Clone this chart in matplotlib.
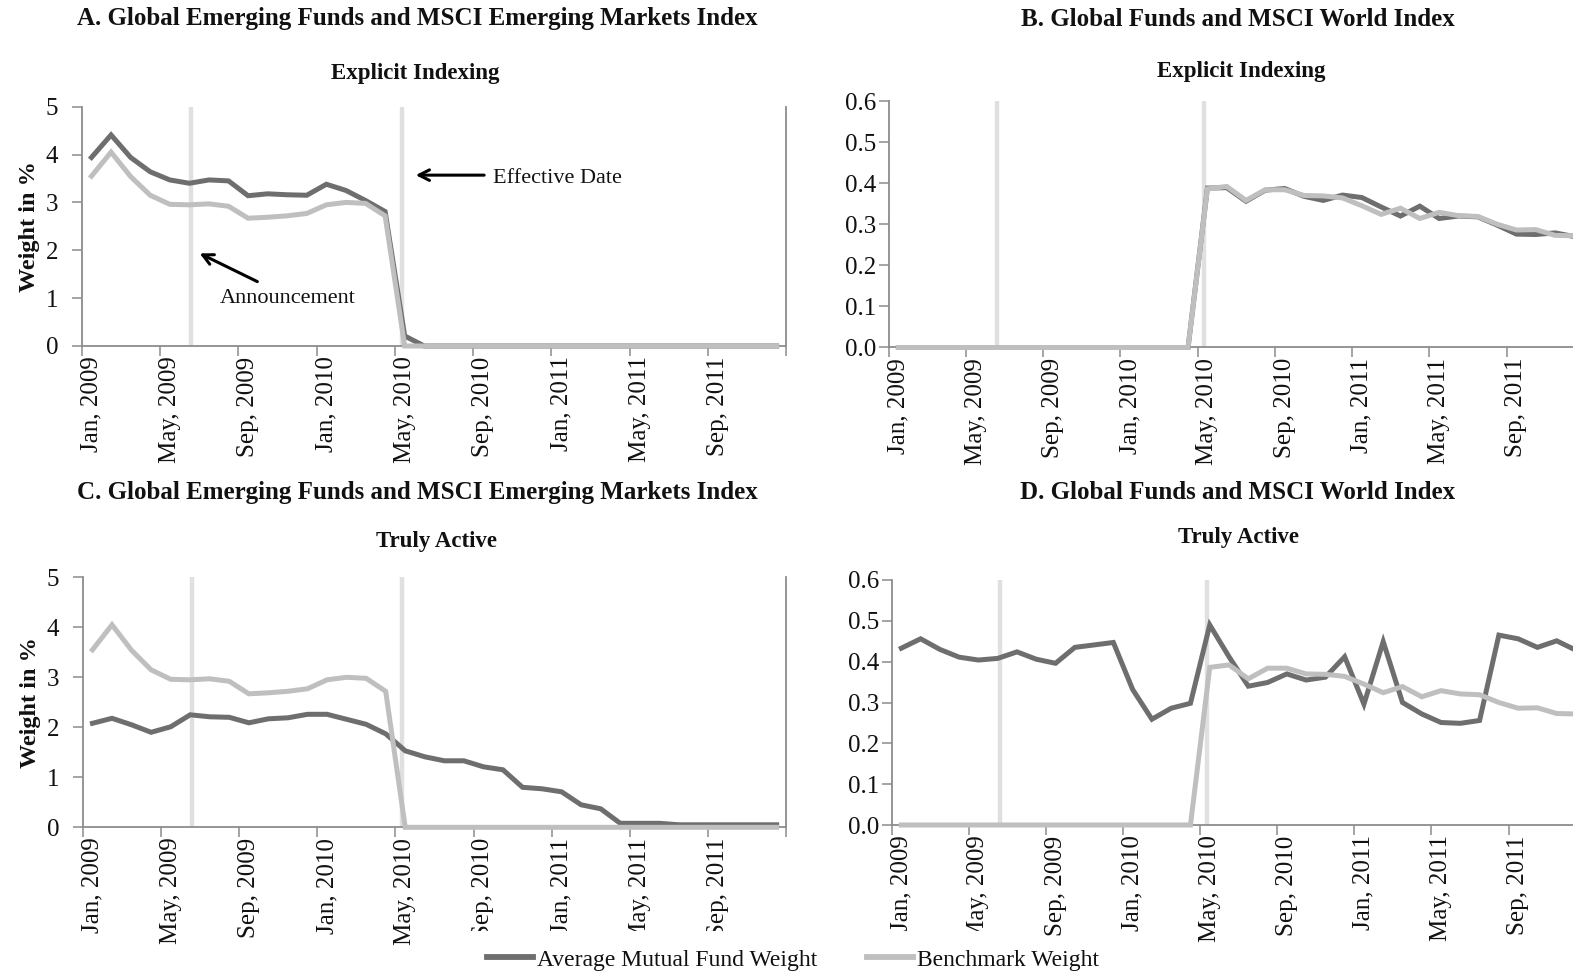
import matplotlib
matplotlib.use("Agg")
import matplotlib.pyplot as plt
from matplotlib.lines import Line2D
from matplotlib.patches import Rectangle

plt.rcParams['font.family'] = ['Liberation Serif', 'DejaVu Serif']

# ---------------- data ----------------
tick_labels = ["Jan, 2009", "May, 2009", "Sep, 2009", "Jan, 2010", "May, 2010",
               "Sep, 2010", "Jan, 2011", "May, 2011", "Sep, 2011"]
n_months = 36

em_explicit_fund = [3.94, 4.41, 3.94, 3.64, 3.47, 3.40, 3.47, 3.45, 3.14, 3.18, 3.16, 3.15,
                    3.38, 3.25, 3.04, 2.81, 0.21, 0.0, 0.0, 0.0, 0.0, 0.0, 0.0, 0.0,
                    0.0, 0.0, 0.0, 0.0, 0.0, 0.0, 0.0, 0.0, 0.0, 0.0, 0.0, 0.0]
em_benchmark = [3.55, 4.05, 3.54, 3.15, 2.96, 2.95, 2.97, 2.92, 2.67, 2.69, 2.72, 2.77,
                2.95, 3.00, 2.98, 2.72, 0.0, 0.0, 0.0, 0.0, 0.0, 0.0, 0.0, 0.0,
                0.0, 0.0, 0.0, 0.0, 0.0, 0.0, 0.0, 0.0, 0.0, 0.0, 0.0, 0.0]
em_active_fund = [2.08, 2.18, 2.05, 1.90, 2.01, 2.25, 2.21, 2.20, 2.09, 2.17, 2.19, 2.26,
                  2.26, 2.16, 2.06, 1.87, 1.53, 1.41, 1.33, 1.33, 1.21, 1.15, 0.80, 0.77,
                  0.71, 0.45, 0.37, 0.08, 0.08, 0.08, 0.05, 0.05, 0.05, 0.05, 0.05, 0.05]

world_explicit_fund = [0.0, 0.0, 0.0, 0.0, 0.0, 0.0, 0.0, 0.0, 0.0, 0.0, 0.0, 0.0,
                       0.0, 0.0, 0.0, 0.0, 0.388, 0.389, 0.356, 0.383, 0.387, 0.368, 0.358, 0.371,
                       0.365, 0.342, 0.320, 0.344, 0.314, 0.320, 0.318, 0.298, 0.276, 0.275, 0.279, 0.270]
world_benchmark = [0.0, 0.0, 0.0, 0.0, 0.0, 0.0, 0.0, 0.0, 0.0, 0.0, 0.0, 0.0,
                   0.0, 0.0, 0.0, 0.0, 0.386, 0.392, 0.358, 0.384, 0.384, 0.370, 0.369, 0.364,
                   0.345, 0.324, 0.339, 0.314, 0.329, 0.321, 0.319, 0.300, 0.286, 0.287, 0.273, 0.272]
world_active_fund = [0.433, 0.456, 0.430, 0.411, 0.404, 0.408, 0.424, 0.406, 0.396, 0.435, 0.441, 0.447,
                     0.332, 0.259, 0.286, 0.298, 0.490, 0.412, 0.340, 0.349, 0.370, 0.355, 0.362, 0.412,
                     0.296, 0.449, 0.300, 0.272, 0.251, 0.249, 0.256, 0.465, 0.456, 0.435, 0.451, 0.428]

# event dates in month units from the Jan 2009 axis start
announcement_pos = 5.6
effective_pos = 16.35

# ---------------- style ----------------
FUND_C = '#6e6e6e'
BENCH_C = '#bfbfbf'
EVENT_C = '#e0e0e0'
SPINE_C = '#8c8c8c'
TXT_C = '#111111'
LW = 3.6

W, H = 1573, 977
fig = plt.figure(figsize=(W / 100, H / 100), dpi=100)


def px_axes(left, right, top, bottom):
    return fig.add_axes([left / W, 1 - bottom / H, (right - left) / W, (bottom - top) / H])


def style_axes(ax, ymax, yticks, fmt, ypad):
    ax.set_xlim(0, n_months)
    ax.set_ylim(0, ymax)
    ax.set_xticks(list(range(0, n_months + 1, 4)))
    ax.set_xticklabels([])
    ax.set_xticks([i + 0.5 for i in range(0, n_months, 4)], minor=True)
    ax.set_xticklabels(tick_labels, minor=True, rotation=90, fontsize=18, color=TXT_C,
                       va='top', ha='center')
    ax.tick_params(axis='x', which='major', length=7, width=1.1, color=SPINE_C, direction='out')
    ax.tick_params(axis='x', which='minor', length=0, pad=7.5)
    ax.set_yticks(yticks)
    ax.set_yticklabels([fmt.format(v) for v in yticks], fontsize=18, color=TXT_C)
    ax.tick_params(axis='y', length=7, width=1.1, color=SPINE_C, direction='out', pad=ypad)
    for s in ['left', 'bottom', 'right']:
        ax.spines[s].set_color(SPINE_C)
        ax.spines[s].set_linewidth(1.3)
    ax.spines['top'].set_visible(False)
    ax.axvline(announcement_pos, color=EVENT_C, lw=3.2, zorder=1)
    ax.axvline(effective_pos, color=EVENT_C, lw=3.2, zorder=1)


def draw(ax, fund, bench):
    x = [i + 0.5 for i in range(n_months)]
    ax.plot(x, fund, color=FUND_C, lw=LW, zorder=3, solid_joinstyle='miter', clip_on=False)
    ax.plot(x, bench, color=BENCH_C, lw=LW, zorder=4, solid_joinstyle='miter', clip_on=False)


# Panel A
axA = px_axes(81.7, 786.4, 106.7, 346.0)
style_axes(axA, 5, [0, 1, 2, 3, 4, 5], "{:d}", 10)
draw(axA, em_explicit_fund, em_benchmark)
axA.set_ylabel("Weight in %", fontsize=17.5, fontweight='bold', color=TXT_C, labelpad=4)

# Panel B
axB = px_axes(888.7, 1584.0, 101.0, 347.5)
style_axes(axB, 0.6, [0.0, 0.1, 0.2, 0.3, 0.4, 0.5, 0.6], "{:.1f}", 2)
draw(axB, world_explicit_fund, world_benchmark)

# Panel C
axC = px_axes(82.7, 786.4, 577.3, 827.3)
style_axes(axC, 5, [0, 1, 2, 3, 4, 5], "{:d}", 10)
draw(axC, em_active_fund, em_benchmark)
axC.set_ylabel("Weight in %", fontsize=17.5, fontweight='bold', color=TXT_C, labelpad=4)

# Panel D
axD = px_axes(891.7, 1585.6, 580.0, 825.0)
style_axes(axD, 0.6, [0.0, 0.1, 0.2, 0.3, 0.4, 0.5, 0.6], "{:.1f}", 2)
draw(axD, world_active_fund, world_benchmark)


# Titles
def ftext(x, y, s, size, weight='bold'):
    fig.text(x / W, 1 - y / H, s, fontsize=size, fontweight=weight, color=TXT_C,
             ha='center', va='center')


ftext(417, 19, "A. Global Emerging Funds and MSCI Emerging Markets Index", 18)
ftext(415, 73, "Explicit Indexing", 16.5)
ftext(1238, 19, "B. Global Funds and MSCI World Index", 18)
ftext(1241, 72, "Explicit Indexing", 16.5)
ftext(417, 493, "C. Global Emerging Funds and MSCI Emerging Markets Index", 18)
ftext(436, 541, "Truly Active", 16.5)
ftext(1238, 493, "D. Global Funds and MSCI World Index", 18)
ftext(1238, 537, "Truly Active", 16.5)

# Annotations in panel A
axA.annotate("", xy=(16.92, 3.57), xytext=(20.7, 3.57),
             arrowprops=dict(arrowstyle='->,head_length=0.75,head_width=0.38', color='black', lw=2.2))
axA.text(21.0, 3.5, "Effective Date", fontsize=16, color=TXT_C, ha='left', va='center')
axA.annotate("", xy=(5.9, 1.96), xytext=(9.1, 1.32),
             arrowprops=dict(arrowstyle='->,head_length=0.75,head_width=0.38', color='black', lw=2.2))
axA.text(10.5, 1.0, "Announcement", fontsize=16, color=TXT_C, ha='center', va='center')

# white backing behind the legend (covers the label tails as in the original)
fig.patches.append(Rectangle((425 / W, 0), (1030 - 425) / W, (977 - 931) / H,
                             transform=fig.transFigure, facecolor='white',
                             edgecolor='none', zorder=2))

# Legend
handles = [Line2D([0], [0], color=FUND_C, lw=4.2),
           Line2D([0], [0], color=BENCH_C, lw=4.2)]
leg = fig.legend(handles, ["Average Mutual Fund Weight", "Benchmark Weight"],
                 loc='center', bbox_to_anchor=(793 / W, 1 - 960 / H), ncol=2, frameon=False,
                 fontsize=17, handlelength=1.95, handletextpad=0.17, columnspacing=2.1,
                 labelcolor=TXT_C)
leg.set_zorder(5)

fig.savefig("out.png", dpi=100)
